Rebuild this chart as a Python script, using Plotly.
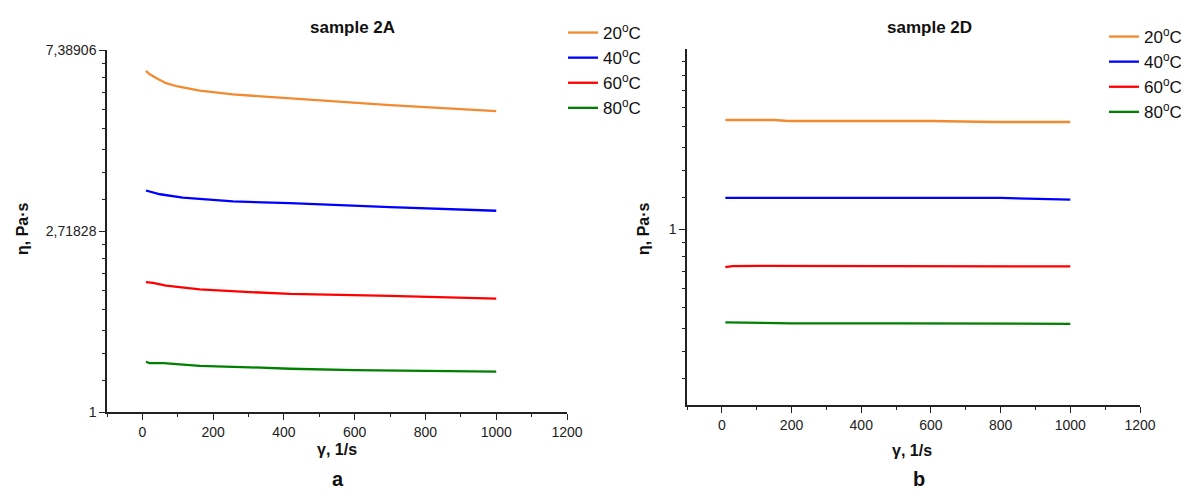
import math
import plotly.graph_objects as go

# ---------------- data ----------------
temps = ["20<sup>o</sup>C", "40<sup>o</sup>C", "60<sup>o</sup>C", "80<sup>o</sup>C"]
colors = ["#F28A30", "#0000FF", "#FF0000", "#008000"]

# sample 2A
a20_x = [10, 20, 40, 67, 100, 162, 256, 351, 417, 550, 700, 850, 1000]
a20_y = [6.58, 6.47, 6.32, 6.15, 6.04, 5.90, 5.78, 5.71, 5.64, 5.55, 5.45, 5.36, 5.27]
a40_x = [10, 50, 114, 256, 417, 700, 1000]
a40_y = [3.40, 3.33, 3.27, 3.20, 3.17, 3.10, 3.04]
a60_x = [10, 30, 67, 162, 304, 417, 700, 1000]
a60_y = [2.05, 2.04, 2.01, 1.97, 1.94, 1.92, 1.90, 1.87]
a80_x = [10, 20, 60, 100, 162, 304, 417, 600, 800, 1000]
a80_y = [1.32, 1.31, 1.31, 1.30, 1.29, 1.28, 1.27, 1.26, 1.255, 1.25]

# sample 2D
d20_x = [10, 150, 190, 600, 780, 1000]
d20_y = [1.826, 1.826, 1.816, 1.816, 1.806, 1.806]
d40_x = [10, 500, 800, 1000]
d40_y = [1.187, 1.187, 1.187, 1.176]
d60_x = [10, 30, 100, 500, 1000]
d60_y = [0.810, 0.815, 0.816, 0.815, 0.813]
d80_x = [10, 100, 200, 500, 1000]
d80_y = [0.597, 0.596, 0.594, 0.594, 0.592]

x_ticks = [0, 200, 400, 600, 800, 1000, 1200]
x_minor = [-100, 100, 300, 500, 700, 900, 1100]
a_yticks = [1, math.e, math.e ** 2]
a_ytext = ["1", "2,71828", "7,38906"]
d_yticks = [1]
d_ytext = ["1"]

# the page has an 8px body margin, so the figure is 1173x484 placed at (8, 8)
OFF = 8
W, H = 1173, 484
FONT = "Liberation Sans, Arial, sans-serif"


def minor_between(lo, hi, n=9):
    return [lo + k * (hi - lo) / n for k in range(1, n)]


a_minor = minor_between(1, math.e) + minor_between(math.e, math.e ** 2)
d_minor = minor_between(math.exp(-1), 1) + minor_between(1, math.e)

fig = go.Figure()
for xs, ys, name, c in zip([a20_x, a40_x, a60_x, a80_x], [a20_y, a40_y, a60_y, a80_y], temps, colors):
    fig.add_trace(go.Scatter(x=xs, y=ys, name=name, mode="lines", line=dict(color=c, width=2.3),
                             xaxis="x", yaxis="y", legend="legend"))
for xs, ys, name, c in zip([d20_x, d40_x, d60_x, d80_x], [d20_y, d40_y, d60_y, d80_y], temps, colors):
    fig.add_trace(go.Scatter(x=xs, y=ys, name=name, mode="lines", line=dict(color=c, width=2.3),
                             xaxis="x2", yaxis="y2", legend="legend2"))


def px_x(p):
    return (p - OFF) / W


def px_y(p):
    return 1 - (p - OFF) / H


axis_common = dict(showgrid=False, zeroline=False, showline=True, linecolor="#222", linewidth=1.5,
                   ticks="outside", ticklen=6, tickwidth=1.3, tickcolor="#222", automargin=False,
                   tickfont=dict(family=FONT, size=14, color="#222"))

xcommon = dict(axis_common, range=[-100, 1200], tickmode="array", tickvals=x_ticks,
               minor=dict(tickmode="array", tickvals=x_minor, ticklen=3, tickwidth=1.2,
                          tickcolor="#222", ticks="outside", showgrid=False))

fig.update_layout(
    width=W, height=H, autosize=False, paper_bgcolor="white", plot_bgcolor="white",
    margin=dict(l=0, r=0, t=0, b=0, pad=0, autoexpand=False),
    font=dict(family=FONT, color="#222"),
    xaxis=dict(xcommon, domain=[px_x(107), px_x(567)], anchor="y"),
    yaxis=dict(axis_common, type="log", domain=[px_y(412), px_y(50)], anchor="x",
               range=[0, 2 * math.log10(math.e)], tickmode="array", tickvals=a_yticks, ticktext=a_ytext,
               minor=dict(tickmode="array", tickvals=a_minor, ticklen=3, tickwidth=1.2,
                          tickcolor="#222", ticks="outside", showgrid=False)),
    xaxis2=dict(xcommon, domain=[px_x(687), px_x(1140)], anchor="y2"),
    yaxis2=dict(axis_common, type="log", domain=[px_y(405), px_y(49)], anchor="x2",
                range=[math.log10(math.exp(-0.9724)), math.log10(math.exp(0.9945))],
                tickmode="array", tickvals=d_yticks, ticktext=d_ytext,
                minor=dict(tickmode="array", tickvals=d_minor, ticklen=3, tickwidth=1.2,
                           tickcolor="#222", ticks="outside", showgrid=False)),
    legend=dict(x=px_x(563), y=px_y(15), xanchor="left", yanchor="top", bgcolor="rgba(0,0,0,0)",
                font=dict(family=FONT, size=17, color="#111"), tracegroupgap=0, itemwidth=30),
    legend2=dict(x=px_x(1104), y=px_y(19), xanchor="left", yanchor="top", bgcolor="rgba(0,0,0,0)",
                 font=dict(family=FONT, size=17, color="#111"), tracegroupgap=0, itemwidth=30),
    showlegend=True,
)

ann = [
    ("<b>sample 2A</b>", 352, 27, 17, 0, "middle"),
    ("<b>sample 2D</b>", 929, 27, 17, 0, "middle"),
    ("<b>γ, 1/s</b>", 337, 449, 16, 0, "middle"),
    ("<b>γ, 1/s</b>", 912, 450, 16, 0, "middle"),
    ("<b>a</b>", 338, 492, 20, 0, "bottom"),
    ("<b>b</b>", 919, 492, 20, 0, "bottom"),
    ("<b>η, Pa·s</b>", 22, 229, 16, -90, "middle"),
    ("<b>η, Pa·s</b>", 643, 229, 16, -90, "middle"),
]
for text, x, y, size, ang, ya in ann:
    fig.add_annotation(text=text, x=px_x(x), y=px_y(y), xref="paper", yref="paper",
                       xanchor="center", yanchor=ya, showarrow=False, textangle=ang,
                       font=dict(family=FONT, size=size, color="#111"))

fig.write_html("out.html")
